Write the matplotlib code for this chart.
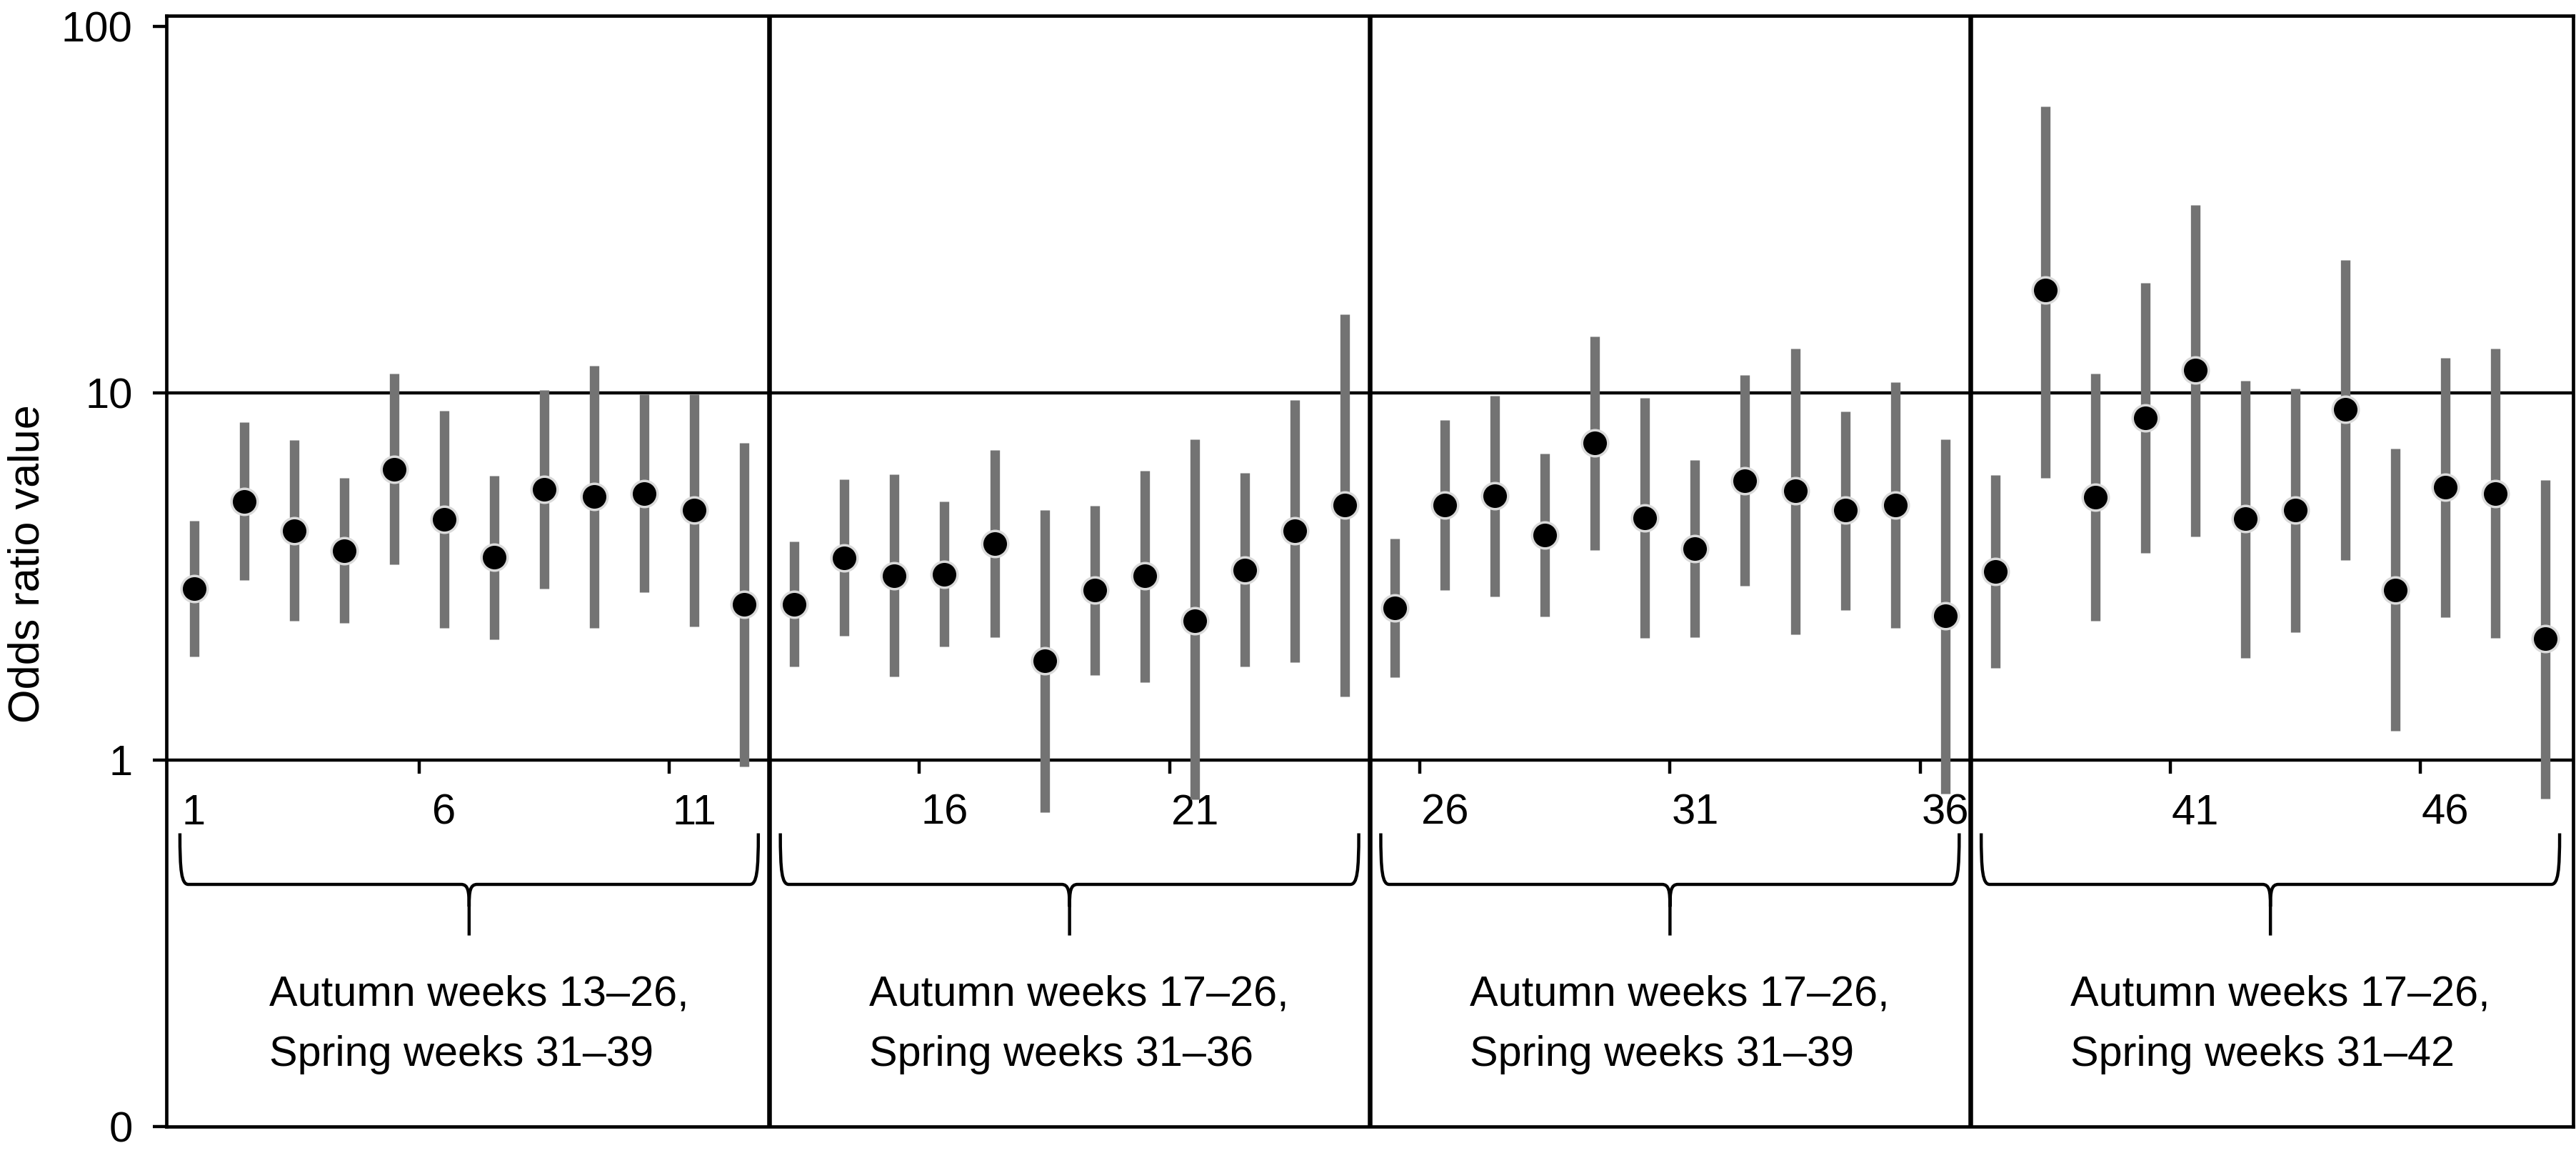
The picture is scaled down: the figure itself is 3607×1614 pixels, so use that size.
import matplotlib
matplotlib.use('Agg')
import matplotlib.pyplot as plt
import matplotlib.transforms as mtransforms
from matplotlib import font_manager
from matplotlib.path import Path
from matplotlib.patches import PathPatch
import numpy as np

# -------------------------------------------------------------------
# data (odds ratio and 95% CI per week)

weeks = list(range(1, 49))

or_values = [2.93, 5.07, 4.22, 3.72, 6.21, 4.52, 3.57, 5.47, 5.22, 5.33, 4.80, 2.66,
             2.66, 3.56, 3.18, 3.21, 3.89, 1.86, 2.91, 3.17, 2.40, 3.30, 4.21, 4.96,
             2.60, 4.96, 5.26, 4.11, 7.32, 4.57, 3.77, 5.77, 5.41, 4.80, 4.96, 2.47,
             3.26, 19.1, 5.20, 8.55, 11.56, 4.55, 4.81, 9.02, 2.91, 5.54, 5.32, 2.14]

ci_high = [4.49, 8.32, 7.45, 5.87, 11.3, 8.96, 5.96, 10.2, 11.9, 9.92, 9.94, 7.31,
           3.94, 5.82, 6.00, 5.06, 7.01, 4.80, 4.94, 6.14, 7.48, 6.06, 9.57, 16.4,
           4.02, 8.46, 9.86, 6.85, 14.3, 9.72, 6.56, 11.2, 13.2, 8.93, 10.7, 7.49,
           5.98, 60.6, 11.3, 20.0, 32.6, 10.8, 10.3, 23.1, 7.06, 12.5, 13.2, 5.79]

ci_low = [1.91, 3.09, 2.39, 2.36, 3.41, 2.29, 2.13, 2.93, 2.29, 2.86, 2.31, 0.96,
          1.80, 2.18, 1.69, 2.04, 2.16, 0.72, 1.70, 1.63, 0.78, 1.80, 1.85, 1.49,
          1.68, 2.90, 2.79, 2.46, 3.74, 2.15, 2.16, 2.98, 2.20, 2.56, 2.29, 0.81,
          1.78, 5.88, 2.39, 3.66, 4.07, 1.90, 2.23, 3.50, 1.20, 2.45, 2.15, 0.785]

group_size = 12
group_autumn = ['Autumn weeks 13\u201326,', 'Autumn weeks 17\u201326,',
                'Autumn weeks 17\u201326,', 'Autumn weeks 17\u201326,']
group_spring = ['Spring weeks 31\u201339', 'Spring weeks 31\u201336',
                'Spring weeks 31\u201339', 'Spring weeks 31\u201342']

label_weeks = [1, 6, 11, 16, 21, 26, 31, 36, 41, 46]
mark_weeks = [5.5, 10.5, 15.5, 20.5, 25.5, 30.5, 35.5, 40.5, 45.5]

y_ticks = [0.1, 1, 10, 100]
y_tick_labels = ['0', '1', '10', '100']

# -------------------------------------------------------------------
# fonts

names = {f.name for f in font_manager.fontManager.ttflist}
if 'Liberation Sans Narrow' in names:
    tick_font = ['Liberation Sans Narrow', 'DejaVu Sans']
    tick_size = 46
else:
    tick_font = ['Liberation Sans', 'DejaVu Sans']
    tick_size = 43
text_font = ['Liberation Sans', 'DejaVu Sans']
plt.rcParams['font.family'] = text_font

BAR_GREY = '#737373'
LW = 3.2        # spines, reference lines, braces
SEP_LW = 4.7    # group separators


# -------------------------------------------------------------------
def draw_brace(ax, xc, half=5.78, y_top=0.264, y_mid=0.218, y_tip=0.172):
    trans = mtransforms.blended_transform_factory(ax.transData, ax.transAxes)
    xl, xr = xc - half, xc + half
    verts = [
        (xl, y_top),
        (xl, y_mid + 0.012), (xl + 0.03, y_mid), (xl + 0.17, y_mid),
        (xc - 0.16, y_mid),
        (xc - 0.02, y_mid), (xc, y_mid - 0.006), (xc, y_mid - 0.02),
        (xc, y_tip),
        (xc, y_mid - 0.02),
        (xc, y_mid - 0.006), (xc + 0.02, y_mid), (xc + 0.16, y_mid),
        (xr - 0.17, y_mid),
        (xr - 0.03, y_mid), (xr, y_mid + 0.012), (xr, y_top),
    ]
    codes = [Path.MOVETO,
             Path.CURVE4, Path.CURVE4, Path.CURVE4,
             Path.LINETO,
             Path.CURVE4, Path.CURVE4, Path.CURVE4,
             Path.LINETO,
             Path.MOVETO,
             Path.CURVE4, Path.CURVE4, Path.CURVE4,
             Path.LINETO,
             Path.CURVE4, Path.CURVE4, Path.CURVE4]
    patch = PathPatch(Path(verts, codes), transform=trans, fill=False,
                      lw=LW, edgecolor='black', capstyle='butt',
                      joinstyle='round', clip_on=False, zorder=4)
    ax.add_patch(patch)


# -------------------------------------------------------------------
fig = plt.figure(figsize=(36.07, 16.14), dpi=100)
ax = fig.add_axes([233 / 3607, 37 / 1614, 3370 / 3607, 1555 / 1614])

ymin, ymax = 0.1, 107
ax.set_yscale('log')
ax.set_ylim(ymin, ymax)
ax.set_xlim(0.45, 48.55)

# confidence intervals and point estimates
bars = ax.vlines(weeks, ci_low, ci_high, color=BAR_GREY, lw=9.6, zorder=2)
bars.set_capstyle('butt')
ax.plot(weeks, or_values, 'o', color='black', ms=26.3, mec='#dadada', mew=2.5,
        zorder=3)

# reference lines and group separators
for level in [1, 10]:
    ax.axhline(level, color='black', lw=LW, zorder=1)
n_groups = len(weeks) // group_size
for g in range(1, n_groups):
    ax.axvline(g * group_size + 0.5, color='black', lw=SEP_LW, zorder=1)

for spine in ax.spines.values():
    spine.set_linewidth(3.4)

# y axis
ax.set_yticks(y_ticks)
ax.set_yticklabels(y_tick_labels, fontfamily=tick_font, fontsize=tick_size)
ax.yaxis.set_minor_locator(matplotlib.ticker.NullLocator())
ax.tick_params(axis='y', length=14, width=LW, pad=20)
ax.set_xticks([])

# week axis sitting on the y = 1 line
loc = np.log10(1 / ymin) / np.log10(ymax / ymin)
sec = ax.secondary_xaxis(loc)
sec.spines['bottom'].set_visible(False)
sec.set_xticks(mark_weeks)
sec.set_xticklabels([''] * len(mark_weeks))
sec.set_xticks(label_weeks, minor=True)
sec.set_xticklabels([str(w) for w in label_weeks], minor=True,
                    fontfamily=tick_font, fontsize=tick_size)
sec.tick_params(which='major', length=14, width=LW)
sec.tick_params(which='minor', length=0, pad=34)

# size the period text so a line is as wide as in the reference (~587 px)
renderer = fig.canvas.get_renderer()
probe = fig.text(0, 0, group_autumn[0], fontsize=40, fontfamily=text_font)
probe_w = probe.get_window_extent(renderer).width
probe.remove()
group_fs = 40 * 587 / probe_w

# braces and period descriptions
trans = mtransforms.blended_transform_factory(ax.transData, ax.transAxes)
for g in range(n_groups):
    xc = g * group_size + (group_size + 1) / 2
    draw_brace(ax, xc)
    ax.text(xc - 4.0, 0.1087, group_autumn[g], transform=trans, ha='left',
            va='baseline', fontsize=group_fs, fontfamily=text_font)
    ax.text(xc - 4.0, 0.0547, group_spring[g], transform=trans, ha='left',
            va='baseline', fontsize=group_fs, fontfamily=text_font)

fig.text(39 / 3607, 0.511, 'Odds ratio value', rotation=90, ha='center',
         va='center', fontsize=44, fontfamily=text_font)

fig.savefig('out.png', dpi=100)
